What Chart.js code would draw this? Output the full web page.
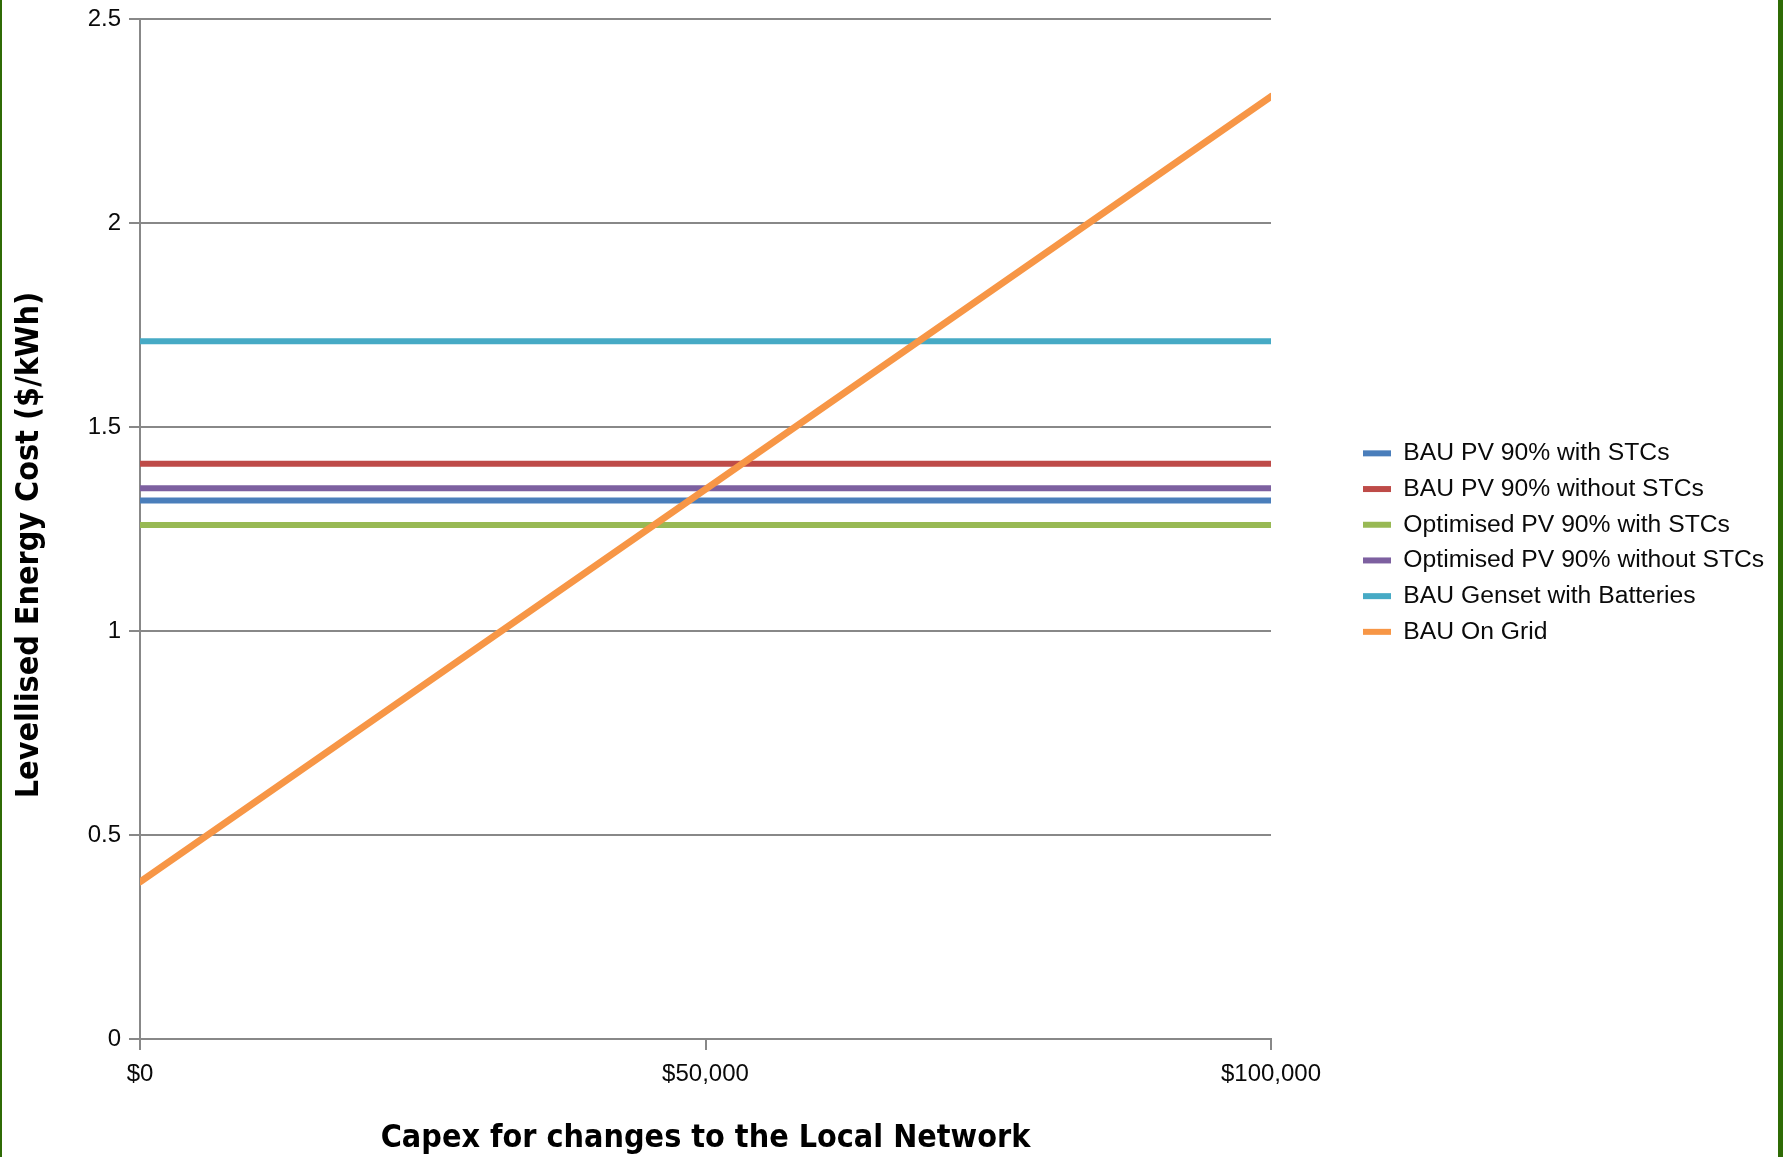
<!DOCTYPE html>
<html>
<head>
<meta charset="utf-8">
<title>Levellised Energy Cost vs Capex</title>
<script src="https://cdn.jsdelivr.net/npm/chart.js@4"></script>
<style>
  html, body { margin: 0; padding: 0; background: #ffffff; overflow: hidden; }
  #wrap { position: relative; width: 1783px; height: 1157px; background: #ffffff; }
  #chart { position: absolute; left: 0; top: 0; }
  .edge { position: absolute; top: 0; height: 1157px; background: #2f6b05; }
  #edgeLeft { left: 0; width: 2px; }
  #edgeRight { right: 0; width: 5px; }
</style>
</head>
<body>
<div id="wrap">
  <canvas id="chart" width="1783" height="1157"></canvas>
  <div class="edge" id="edgeLeft"></div>
  <div class="edge" id="edgeRight"></div>
</div>
<script>
// Capex for changes to the local network ($)
const capex = [0, 100000];

// Levellised energy cost ($/kWh) at each capex value
const bauPvWithStcs = [1.32, 1.32];
const bauPvWithoutStcs = [1.41, 1.41];
const optimisedPvWithStcs = [1.26, 1.26];
const optimisedPvWithoutStcs = [1.35, 1.35];
const bauGensetWithBatteries = [1.71, 1.71];
const bauOnGrid = [0.385, 2.31];

const seriesNames = [
  'BAU PV 90% with STCs',
  'BAU PV 90% without STCs',
  'Optimised PV 90% with STCs',
  'Optimised PV 90% without STCs',
  'BAU Genset with Batteries',
  'BAU On Grid'
];
const seriesValues = [
  bauPvWithStcs,
  bauPvWithoutStcs,
  optimisedPvWithStcs,
  optimisedPvWithoutStcs,
  bauGensetWithBatteries,
  bauOnGrid
];
const seriesColors = ['#4a7ebb', '#be4b48', '#98b954', '#7d60a0', '#46aac5', '#f79646'];

const xTickValues = [0, 50000, 100000];
const yTickStep = 0.5;
const xTitle = 'Capex for changes to the Local Network';
const yTitle = 'Levellised Energy Cost ($/kWh)';

const GRID = '#888888';
const TICK_FONT = { family: '"Liberation Sans", Arial, sans-serif', size: 24 };
const TITLE_FONT = 'bold 32px "DejaVu Sans Condensed", "Liberation Sans Narrow", sans-serif';

Chart.defaults.font.family = TICK_FONT.family;
Chart.defaults.color = '#0a0a0a';

const lastIndex = seriesNames.length - 1;
const datasets = seriesNames.map((name, i) => ({
  label: name,
  data: capex.map((x, j) => ({ x, y: seriesValues[i][j] })),
  borderColor: seriesColors[i],
  backgroundColor: seriesColors[i],
  borderWidth: i === lastIndex ? 7 : 6,
  pointRadius: 0,
  pointHoverRadius: 0,
  tension: 0,
  borderCapStyle: i === lastIndex ? 'round' : 'butt',
  // the on-grid line is drawn above the flat series
  order: i === lastIndex ? -1 : i
}));

// Legend sits to the right of the plot with a fixed box width and offset
const LEGEND_BOX_WIDTH = 507;
const legendPlacement = {
  id: 'legendPlacement',
  afterInit(chart) {
    const legend = chart.legend;
    const fit = legend.fit;
    legend.fit = function () {
      fit.call(this);
      this.width = LEGEND_BOX_WIDTH;
    };
  },
  afterLayout(chart) {
    const legend = chart.legend;
    const left = chart.chartArea.right + 81;
    const top = 430;
    const w = legend.right - legend.left;
    legend.left = left;
    legend.right = left + w;
    legend.top = top;
    legend.bottom = top + 250;
  }
};

// Bold axis titles drawn beside the plot area
const axisTitles = {
  id: 'axisTitles',
  afterDraw(chart) {
    const { ctx, chartArea } = chart;
    ctx.save();
    ctx.fillStyle = '#000000';
    ctx.font = TITLE_FONT;
    ctx.textAlign = 'center';
    ctx.textBaseline = 'middle';
    ctx.fillText(xTitle, (chartArea.left + chartArea.right) / 2, chartArea.bottom + 100);
    ctx.translate(30, (chartArea.top + chartArea.bottom) / 2 + 16);
    ctx.rotate(-Math.PI / 2);
    ctx.fillText(yTitle, 0, 0);
    ctx.restore();
  }
};

new Chart(document.getElementById('chart'), {
  type: 'line',
  data: { datasets },
  plugins: [legendPlacement, axisTitles],
  options: {
    responsive: false,
    animation: false,
    events: [],
    layout: { padding: { left: 2, top: 19, right: 5, bottom: 0 } },
    scales: {
      x: {
        type: 'linear',
        min: capex[0],
        max: capex[capex.length - 1],
        afterBuildTicks(scale) {
          scale.ticks = xTickValues.map(v => ({ value: v }));
        },
        afterFit(scale) {
          scale.height = 118;
          scale.paddingLeft = 0;
          scale.paddingRight = 0;
        },
        ticks: {
          font: TICK_FONT,
          padding: 10,
          maxRotation: 0,
          callback: v => '$' + Number(v).toLocaleString('en-US')
        },
        grid: {
          display: true,
          drawOnChartArea: false,
          drawTicks: true,
          tickLength: 11,
          color: GRID,
          lineWidth: 2
        },
        border: { display: true, color: GRID, width: 2 }
      },
      y: {
        type: 'linear',
        min: 0,
        max: 2.5,
        afterFit(scale) {
          scale.width = 138;
          scale.paddingTop = 0;
          scale.paddingBottom = 0;
        },
        ticks: {
          stepSize: yTickStep,
          font: TICK_FONT,
          padding: 8,
          callback: v => String(Number(v))
        },
        grid: {
          color: GRID,
          lineWidth: 2,
          drawTicks: true,
          tickLength: 11
        },
        border: { display: true, color: GRID, width: 2 }
      }
    },
    plugins: {
      tooltip: { enabled: false },
      title: { display: false },
      legend: {
        display: true,
        position: 'right',
        align: 'start',
        labels: {
          boxWidth: 28,
          boxHeight: 6,
          padding: 11,
          font: { family: TICK_FONT.family, size: 24.7 },
          sort: (a, b) => a.datasetIndex - b.datasetIndex,
          generateLabels(chart) {
            const items = Chart.defaults.plugins.legend.labels.generateLabels(chart);
            return items.map(item => Object.assign(item, {
              fillStyle: item.strokeStyle,
              lineWidth: 0
            }));
          }
        }
      }
    }
  }
});
</script>
</body>
</html>
